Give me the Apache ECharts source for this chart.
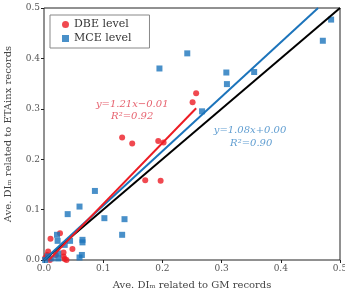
<!DOCTYPE html>
<html>
<head>
<meta charset="utf-8">
<script src="https://cdn.jsdelivr.net/npm/echarts@6/dist/echarts.min.js"></script>
<style>
  html, body { margin: 0; padding: 0; background: #fff; }
  #chart { width: 345px; height: 295px; }
</style>
</head>
<body>
<div id="chart"></div>
<script>
// DBE level points [GM, ETAinx]
const dbePoints = [
  [0.257, 0.331], [0.251, 0.313], [0.132, 0.243], [0.149, 0.231],
  [0.193, 0.236], [0.202, 0.233], [0.171, 0.158], [0.197, 0.157],
  [0.011, 0.042], [0.027, 0.053], [0.048, 0.022], [0.033, 0.015],
  [0.007, 0.017], [0.005, 0.010], [0.035, 0.002], [0.038, 0.000],
  [0.010, 0.000], [0.033, 0.007], [0.002, 0.004], [0.020, 0.010]
];
// MCE level points [GM, ETAinx]
const mcePoints = [
  [0.485, 0.477], [0.471, 0.435], [0.242, 0.410], [0.195, 0.380],
  [0.308, 0.372], [0.355, 0.373], [0.309, 0.349], [0.267, 0.295],
  [0.086, 0.137], [0.060, 0.106], [0.040, 0.091], [0.102, 0.083],
  [0.136, 0.081], [0.132, 0.050], [0.022, 0.050], [0.023, 0.038],
  [0.044, 0.038], [0.065, 0.040], [0.065, 0.035], [0.035, 0.030],
  [0.064, 0.010], [0.060, 0.005], [0.024, 0.013], [0.024, 0.003],
  [0.002, 0.000], [0.007, 0.007], [0.013, 0.003]
];
// fitted lines: slope, intercept, x range
const dbeFit = { slope: 1.21, intercept: -0.01, xRange: [0.008, 0.257] };
const mceFit = { slope: 1.08, intercept: 0.00, xRange: [0.0, 0.463] };
const refFit = { slope: 1.0, intercept: 0.0, xRange: [0.0, 0.5] };

const RED = "#ec1c24";
const BLUE = "#1c74bb";
const SERIF = "'DejaVu Serif', 'Liberation Serif', serif";

const fitLine = (f) => f.xRange.map((x) => [x, f.slope * x + f.intercept]);

const chart = echarts.init(document.getElementById("chart"));

const options = {
  animation: false,
  grid: {
    left: 44, right: 5, top: 8, bottom: 35,
    outerBoundsMode: "none", containLabel: false,
    show: true, borderColor: "#222", borderWidth: 1,
  },
  legend: {
    orient: "vertical",
    left: 50, top: 15,
    itemWidth: 7, itemHeight: 7, itemGap: 3,
    padding: [4, 18, 4, 12],
    borderColor: "#888", borderWidth: 1,
    textStyle: { fontFamily: SERIF, fontSize: 11, color: "#333" },
    data: [
      { name: "DBE level", icon: "circle" },
      { name: "MCE level", icon: "rect" },
    ],
  },
  xAxis: {
    type: "value", min: 0, max: 0.5, interval: 0.1,
    name: "Ave. DIₘ related to GM records",
    nameLocation: "middle", nameGap: 20,
    nameTextStyle: { fontFamily: SERIF, fontSize: 10, color: "#444" },
    axisLine: { show: false },
    axisTick: { show: true, length: 3, inside: false, lineStyle: { color: "#222" } },
    axisLabel: {
      fontFamily: SERIF, fontSize: 9, color: "#555", margin: 4,
      formatter: (v) => v.toFixed(1),
    },
    splitLine: { show: false },
  },
  yAxis: {
    type: "value", min: 0, max: 0.5, interval: 0.1,
    name: "Ave. DIₘ related to ETAinx records",
    nameLocation: "middle", nameGap: 31,
    nameTextStyle: { fontFamily: SERIF, fontSize: 10, color: "#444" },
    axisLine: { show: false },
    axisTick: { show: true, length: 3, inside: false, lineStyle: { color: "#222" } },
    axisLabel: {
      fontFamily: SERIF, fontSize: 9, color: "#555", margin: 4,
      formatter: (v) => v.toFixed(1),
    },
    splitLine: { show: false },
  },
  series: [
    {
      name: "DBE level", type: "scatter", symbol: "circle", symbolSize: 6,
      itemStyle: { color: RED }, data: dbePoints, z: 2,
    },
    {
      name: "MCE level", type: "scatter", symbol: "rect", symbolSize: 6,
      itemStyle: { color: BLUE }, data: mcePoints, z: 2,
    },
    {
      type: "line", data: fitLine(refFit), symbol: "none", z: 3,
      lineStyle: { color: "#000", width: 2 },
    },
    {
      type: "line", data: fitLine(mceFit), symbol: "none", z: 4,
      lineStyle: { color: BLUE, width: 2 },
    },
    {
      type: "line", data: fitLine(dbeFit), symbol: "none", z: 5,
      lineStyle: { color: RED, width: 2 },
    },
    {
      // equation annotations
      type: "scatter", symbolSize: 0, silent: true, z: 6,
      data: [
        { value: [0.149, 0.308], label: { formatter: "y=1.21x−0.01", color: "#e03a4a" } },
        { value: [0.149, 0.284], label: { formatter: "R²=0.92", color: "#e03a4a" } },
        { value: [0.348, 0.258], label: { formatter: "y=1.08x+0.00", color: "#3a86c6" } },
        { value: [0.350, 0.232], label: { formatter: "R²=0.90", color: "#3a86c6" } },
      ],
      label: {
        show: true, position: "inside",
        fontFamily: SERIF, fontStyle: "italic", fontSize: 10,
      },
    },
  ],
};

chart.setOption(options);
</script>
</body>
</html>
